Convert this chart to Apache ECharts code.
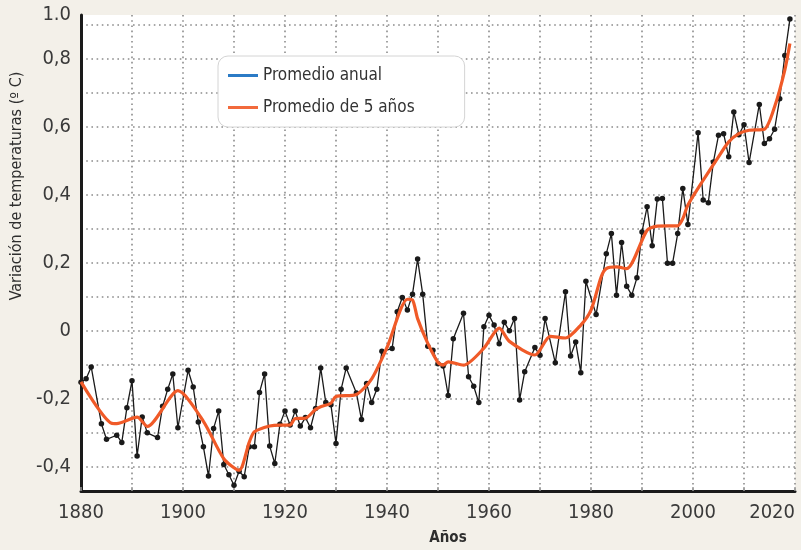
<!DOCTYPE html>
<html>
<head>
<meta charset="utf-8">
<script src="https://cdn.jsdelivr.net/npm/echarts@6/dist/echarts.min.js"></script>
<style>
html,body{margin:0;padding:0;background:#f3f0e9;}
#chart{width:801px;height:550px;}
</style>
</head>
<body>
<div id="chart"></div>
<script>
// Annual mean temperature variation (years as placed on the chart's axis)
const annualYears = [1880,1881,1882,1884,1885,1887,1888,1889,1890,1891,1892,1893,1895,1896,1897,1898,1899,
  1901,1902,1903,1904,1905,1906,1907,1908,1909,1910,1911,1912,1913,1914,1915,1916,1917,1918,1919,1920,
  1921,1922,1923,1924,1925,1926,1927,1928,1929,1930,1931,1932,1934,1935,1936,1937,1938,1939,1941,1942,
  1943,1944,1945,1946,1947,1948,1949,1950,1951,1952,1953,1955,1956,1957,1958,1959,1960,1961,1962,1963,
  1964,1965,1966,1967,1969,1970,1971,1973,1975,1976,1977,1978,1979,1981,1983,1984,1985,1986,1987,1988,
  1989,1990,1991,1992,1993,1994,1995,1996,1997,1998,1999,2001,2002,2003,2004,2005,2006,2007,2008,2009,
  2010,2011,2013,2014,2015,2016,2017,2018,2019];
const annualValues = [-0.15,-0.14,-0.105,-0.272,-0.318,-0.306,-0.327,-0.225,-0.146,-0.367,-0.252,-0.299,-0.313,-0.221,-0.171,-0.126,-0.284,
  -0.115,-0.164,-0.267,-0.34,-0.426,-0.286,-0.235,-0.392,-0.422,-0.453,-0.412,-0.428,-0.34,-0.34,-0.18,-0.126,-0.338,-0.389,-0.274,-0.235,
  -0.276,-0.235,-0.279,-0.254,-0.284,-0.227,-0.108,-0.21,-0.216,-0.33,-0.171,-0.108,-0.182,-0.26,-0.154,-0.21,-0.171,-0.059,-0.051,0.057,
  0.099,0.062,0.109,0.212,0.109,-0.044,-0.056,-0.096,-0.102,-0.189,-0.022,0.053,-0.134,-0.162,-0.21,0.013,0.047,0.018,-0.037,0.026,
  0.001,0.037,-0.202,-0.119,-0.048,-0.071,0.037,-0.093,0.116,-0.073,-0.032,-0.122,0.147,0.049,0.228,0.287,0.106,0.261,0.132,0.106,
  0.157,0.292,0.366,0.251,0.389,0.39,0.2,0.2,0.287,0.42,0.314,0.584,0.386,0.378,0.498,0.576,0.581,0.513,0.645,0.578,
  0.607,0.496,0.667,0.552,0.566,0.594,0.684,0.811,0.918];

// Five-year running mean
const fiveYears = [1880,1886,1887,1891,1893,1899,1904,1908,1911,1913,1914,1917,1919,1921,1922,1924,1926,1927,1929,1930,
  1934,1937,1940,1944,1945,1946,1948,1950,1951,1952,1955,1959,1962,1964,1969,1972,1975,1978,1980,1982,1983,1985,1987,
  1991,1993,1997,1998,1999,2002,2005,2007,2009,2011,2014,2016,2018,2019];
const fiveValues = [-0.149,-0.271,-0.272,-0.253,-0.28,-0.175,-0.265,-0.375,-0.409,-0.326,-0.296,-0.279,-0.276,-0.276,-0.257,-0.256,-0.23,-0.222,-0.212,-0.192,
  -0.186,-0.14,-0.048,0.094,0.092,0.037,-0.036,-0.092,-0.1,-0.09,-0.1,-0.05,0.009,-0.03,-0.07,-0.015,-0.02,0.018,0.062,0.16,0.184,0.189,0.184,
  0.297,0.309,0.31,0.331,0.371,0.444,0.513,0.557,0.581,0.591,0.594,0.66,0.768,0.846];

const xTickLabels = ['1880','1900','1920','1940','1960','1980','2000','2020'];
const yTickLabels = ['-0,4','-0,2','0','0,2','0,4','0,6','0,8','1.0'];

const FONT = '"Liberation Sans Narrow","DejaVu Sans Condensed","Noto Sans",sans-serif';

const chart = echarts.init(document.getElementById('chart'), null, {renderer:'canvas'});

function yLabel(v){
  if (v >= 0.929) return yTickLabels[7];
  const k = Math.round(v * 10);
  if (Math.abs(v * 10 - k) > 1e-6) return '';
  if (k % 2 !== 0) return '';
  const idx = k / 2 + 2;
  return (idx >= 0 && idx < 7) ? yTickLabels[idx] : '';
}
function xLabel(v){
  const s = String(Math.round(v));
  return xTickLabels.indexOf(s) >= 0 && Math.abs(v - Math.round(v)) < 1e-6 ? s : '';
}

const option = {
  backgroundColor: '#f3f0e9',
  animation: false,
  textStyle: {fontFamily: FONT},
  grid: {left: 81, top: 15, width: 714, height: 476, show: true, backgroundColor: '#ffffff', borderWidth: 0},
  legend: {
    orient: 'vertical', left: 218, top: 56,
    padding: [11, 50, 11, 10], itemGap: 15,
    itemWidth: 30, itemHeight: 3,
    backgroundColor: '#ffffff', borderColor: '#d4d4d4', borderWidth: 1, borderRadius: 10,
    textStyle: {fontFamily: FONT, fontSize: 17, color: '#333333', padding: [0,0,0,0]},
    data: [
      {name: 'Promedio anual', icon: 'rect', itemStyle: {color: '#2b7bc6'}},
      {name: 'Promedio de 5 años', icon: 'rect', itemStyle: {color: '#f26a3c'}}
    ]
  },
  xAxis: {
    type: 'value', min: 1880, max: 2020, interval: 10,
    axisLine: {show: true, onZero: false, lineStyle: {color: '#1a1a1a', width: 3}},
    axisTick: {show: true, inside: true, length: 4, lineStyle: {color: '#9a9a9a', width: 1.5}},
    axisLabel: {formatter: xLabel, fontFamily: FONT, fontSize: 20, color: '#3a3a3a', margin: 12,
      showMinLabel: true, showMaxLabel: true, alignMaxLabel: 'right'},
    splitLine: {show: true, showMinLine: false, lineStyle: {color: '#8c8c8c', width: 1.6, type: [1.6, 3.6]}}
  },
  yAxis: {
    type: 'value', min: -0.47, max: 0.93, splitNumber: 14, minInterval: 0.1, maxInterval: 0.1,
    axisLine: {show: true, onZero: false, lineStyle: {color: '#1a1a1a', width: 3}},
    axisTick: {show: false},
    axisLabel: {formatter: yLabel, fontFamily: FONT, fontSize: 20, color: '#3a3a3a', margin: 10,
      showMinLabel: true, showMaxLabel: true},
    splitLine: {show: true, showMinLine: false, showMaxLine: false, lineStyle: {color: '#8c8c8c', width: 1.6, type: [1.6, 3.6]}}
  },
  graphic: [
    {type: 'text', x: 17, y: 186, rotation: Math.PI / 2,
      style: {text: 'Variación de temperaturas (º C)', font: '16px ' + FONT, fill: '#2e2e2e', textAlign: 'center', textVerticalAlign: 'middle'}},
    {type: 'text', x: 448, y: 538,
      style: {text: 'Años', font: 'bold 15px ' + FONT, fill: '#2e2e2e', textAlign: 'center', textVerticalAlign: 'middle'}}
  ],
  series: [
    {
      name: 'Promedio anual', type: 'line',
      data: annualYears.map((y, i) => [y, annualValues[i]]),
      symbol: 'circle', symbolSize: 5.5, showAllSymbol: true,
      itemStyle: {color: '#1a1a1a'},
      lineStyle: {color: '#1a1a1a', width: 1.3},
      z: 3
    },
    {
      name: 'Promedio de 5 años', type: 'line',
      data: fiveYears.map((y, i) => [y, fiveValues[i]]),
      symbol: 'none', smooth: 0.25,
      itemStyle: {color: '#f26a3c'},
      lineStyle: {color: '#f05a28', width: 3.2},
      z: 4
    }
  ]
};
chart.setOption(option);
</script>
</body>
</html>
